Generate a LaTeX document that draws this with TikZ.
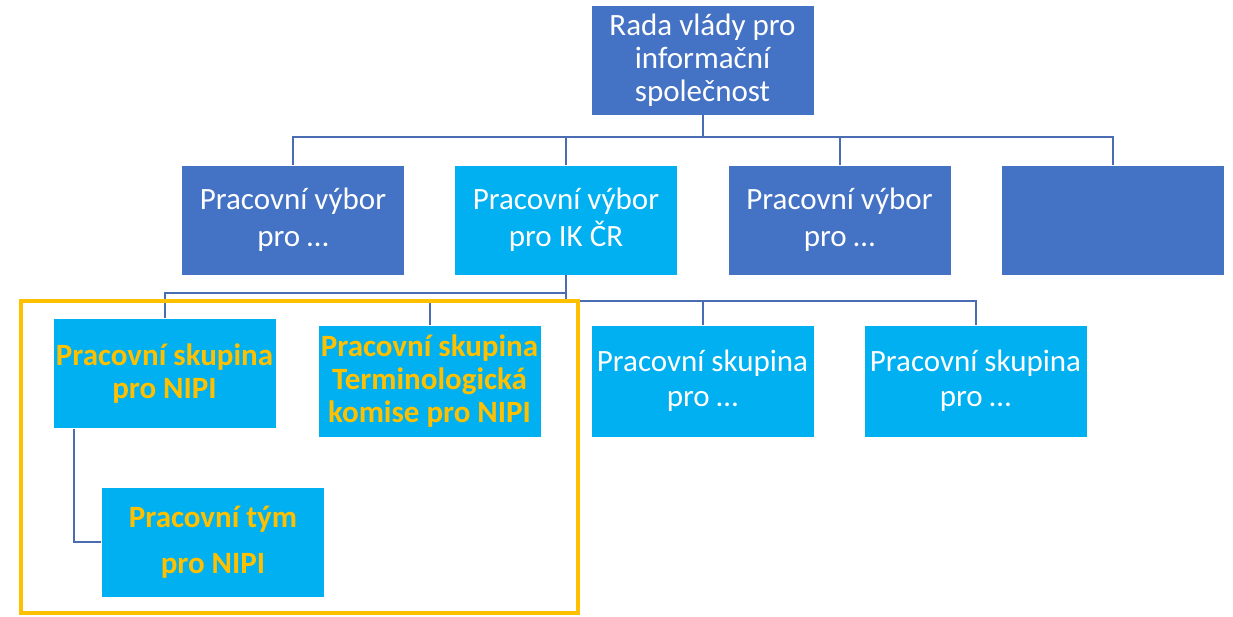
\documentclass[tikz,border=0pt]{standalone}
\usepackage{fontspec}
\setmainfont{Carlito}
\definecolor{dblue}{HTML}{4472C4}
\definecolor{lblue}{HTML}{00B0F0}
\definecolor{gold}{HTML}{FFC000}
\definecolor{linec}{HTML}{4A6CB3}
\begin{document}
\begin{tikzpicture}[x=1pt,y=-1pt,
  box/.style={rectangle, draw=white, line width=0.8pt, minimum width=223pt, minimum height=110pt, inner sep=0pt, align=center, text=white, font=\fontsize{31}{37}\selectfont},
  darkbox/.style={box, fill=dblue},
  lightbox/.style={box, fill=lblue},
  goldtext/.style={text=gold, font=\fontsize{31}{33}\selectfont\bfseries},
  conn/.style={draw=linec, line width=2pt},
  frame/.style={rectangle, draw=gold, line width=4pt, inner sep=0pt}]
\useasboundingbox (0,0) rectangle (1233,616);
% top
\node[darkbox, font=\fontsize{31}{33}\selectfont] (top) at (702.5,60) {Rada vlády pro\\informační\\společnost};
% row 2
\node[darkbox] (a1) at (293,220) {Pracovní výbor\\pro …};
\node[lightbox] (a2) at (566,220) {Pracovní výbor\\pro IK ČR};
\node[darkbox] (a3) at (839.5,220) {Pracovní výbor\\pro …};
\node[darkbox] (a4) at (1113,220) {};
% row 3
\node[lightbox, goldtext] (b1) at (164.5,373.5) {Pracovní skupina\\pro NIPI};
\node[lightbox, goldtext, minimum height=112pt] (b2) at (429.5,381) {Pracovní skupina\\Terminologická\\komise pro NIPI};
\node[lightbox, minimum height=112pt, font=\fontsize{31}{35}\selectfont] (b3) at (702.5,381) {Pracovní skupina\\pro …};
\node[lightbox, minimum height=112pt, font=\fontsize{31}{35}\selectfont] (b4) at (975.5,381) {Pracovní skupina\\pro …};
% row 4
\node[lightbox, goldtext, font=\fontsize{31}{46}\selectfont\bfseries] (c1) at (213,542) {Pracovní tým\\pro NIPI};
% level 1 connectors
\coordinate (bus) at (0,137);
\draw[conn] (top.south) -- (top.south |- bus);
\draw[conn] (a1.north) -- (a1.north |- bus) -- (a4.north |- bus) -- (a4.north);
\draw[conn] (a2.north) -- (a2.north |- bus);
\draw[conn] (a3.north) -- (a3.north |- bus);
% level 2 connectors
\coordinate (busL) at (0,293);
\coordinate (busR) at (0,301);
\draw[conn] (a2.south) -- (a2.south |- busR);
\draw[conn] (b1.north) -- (b1.north |- busL) -- (a2.south |- busL);
\draw[conn] (b2.north) -- (b2.north |- busR) -- (b4.north |- busR) -- (b4.north);
\draw[conn] (b3.north) -- (b3.north |- busR);
% level 3 connector
\coordinate (cx) at (74,0);
\draw[conn] (b1.south -| cx) -- (c1.west -| cx) -- (c1.west);
% highlight frame
\node[frame, minimum width=557pt, minimum height=312pt] (hl) at (299.5,457) {};
\end{tikzpicture}
\end{document}
